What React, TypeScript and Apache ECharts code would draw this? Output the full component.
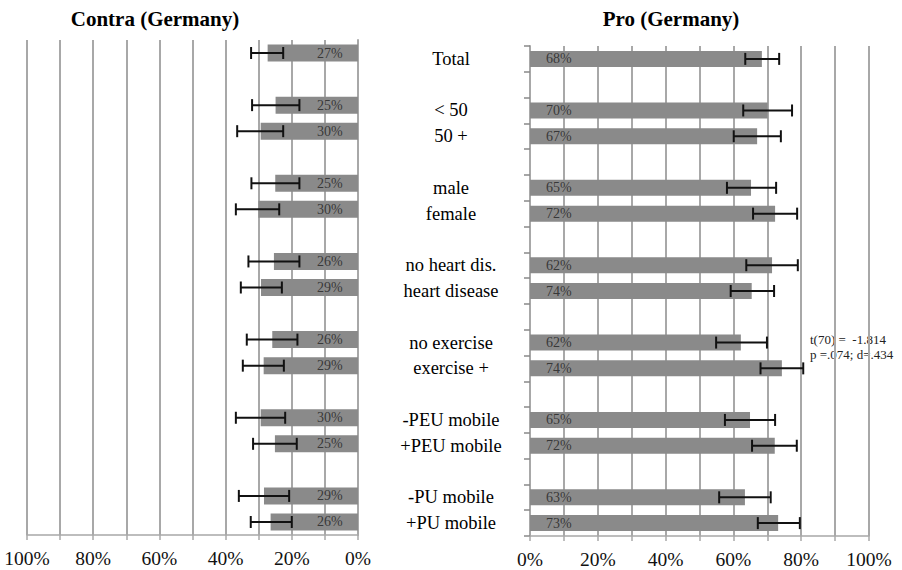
import React, { useEffect, useRef } from "react";
import * as echarts from "echarts";

const categories = ["Total", "", "< 50", "50 +", "", "male", "female", "", "no heart dis.", "heart disease", "", "no exercise", "exercise +", "", "-PEU mobile", "+PEU mobile", "", "-PU mobile", "+PU mobile"];

const contraValues = [27.3, null, 24.9, 29.4, null, 25.0, 30.1, null, 25.4, 29.3, null, 25.9, 28.5, null, 29.4, 25.1, null, 28.4, 26.4];
const contraLabels = ["27%", "", "25%", "30%", "", "25%", "30%", "", "26%", "29%", "", "26%", "29%", "", "30%", "25%", "", "29%", "26%"];
const contraLow = [22.6, null, 17.7, 22.6, null, 17.7, 23.8, null, 17.7, 23.0, null, 18.3, 22.4, null, 22.0, 18.5, null, 20.8, 20.0];
const contraHigh = [32.3, null, 32.0, 36.5, null, 32.2, 36.9, null, 33.1, 35.4, null, 33.6, 34.8, null, 36.9, 31.7, null, 36.0, 32.4];

const proValues = [68.4, null, 70.1, 67.0, null, 65.2, 72.3, null, 71.4, 65.4, null, 62.2, 74.3, null, 64.9, 72.2, null, 63.4, 73.2];
const proLabels = ["68%", "", "70%", "67%", "", "65%", "72%", "", "62%", "74%", "", "62%", "74%", "", "65%", "72%", "", "63%", "73%"];
const proLow = [63.5, null, 62.9, 60.1, null, 58.1, 65.8, null, 63.8, 59.2, null, 54.9, 68.0, null, 57.5, 65.5, null, 55.8, 67.2];
const proHigh = [73.5, null, 77.3, 74.0, null, 72.6, 78.8, null, 79.0, 72.0, null, 69.9, 80.6, null, 72.3, 78.7, null, 71.0, 79.6];

const titles = ["Contra (Germany)", "Pro (Germany)"];
const annotation = ["t(70) =  -1.814", "p =.074; d=.434"];
const labelAt = 8.5;

const FONT = "Liberation Serif";
const GRID = "#a8a8a8";
const BAR = "#8a8a8a";

function errData(low: (number | null)[], high: (number | null)[]) {
  const out: number[][] = [];
  low.forEach((l, i) => {
    const h = high[i];
    if (l != null && h != null) out.push([l, h, i]);
  });
  return out;
}

function labelData(labels: string[]) {
  const out: any[] = [];
  labels.forEach((t, i) => {
    if (t) out.push({ value: [labelAt, i], name: t });
  });
  return out;
}

const renderErr = (params: any, api: any) => {
  const lo = api.coord([api.value(0), api.value(2)]);
  const hi = api.coord([api.value(1), api.value(2)]);
  const y = lo[1];
  const cap = 6;
  const style = { stroke: "#111", lineWidth: 2 };
  return {
    type: "group",
    children: [
      { type: "line", shape: { x1: lo[0], y1: y, x2: hi[0], y2: y }, style },
      { type: "line", shape: { x1: lo[0], y1: y - cap, x2: lo[0], y2: y + cap }, style },
      { type: "line", shape: { x1: hi[0], y1: y - cap, x2: hi[0], y2: y + cap }, style },
    ],
  };
};

function xAxisCfg(gridIndex: number, inverse: boolean) {
  return {
    type: "value",
    gridIndex,
    min: 0,
    max: 100,
    interval: 10,
    inverse,
    axisLine: { show: true, onZero: false, lineStyle: { color: GRID, width: 1.5 } },
    axisTick: { show: true, length: 5, lineStyle: { color: GRID, width: 1.5 } },
    axisLabel: {
      formatter: (v: number) => (v % 20 === 0 ? v + "%" : ""),
      fontFamily: FONT,
      fontSize: 19.5,
      color: "#111",
      margin: 13,
    },
    splitLine: { show: true, lineStyle: { color: GRID, width: 2 } },
  };
}

function txt(text: string, x: number, y: number, size: number, weight: string, align: string, fill: string) {
  return {
    type: "text",
    x,
    y,
    style: {
      text,
      fontFamily: FONT,
      fontSize: size,
      fontWeight: weight,
      fill,
      align,
      verticalAlign: "middle",
    },
  };
}

export default function App() {
  const ref = useRef<HTMLDivElement>(null);
  useEffect(() => {
    if (!ref.current) return;
    const chart = echarts.init(ref.current, null, { renderer: "svg" });
    const labelStyle = { show: true, position: "inside", formatter: "{b}", fontFamily: FONT, fontSize: 14, color: "#222" };
    const option: any = {
      animation: false,
      backgroundColor: "#fff",
      textStyle: { fontFamily: FONT },
      grid: [
        { left: 27, right: 544, top: 40, bottom: 35 },
        { left: 530, right: 33, top: 46, bottom: 34 },
      ],
      xAxis: [xAxisCfg(0, true), xAxisCfg(1, false)],
      yAxis: [
        {
          type: "category",
          gridIndex: 0,
          data: categories,
          inverse: true,
          position: "right",
          axisLine: { show: true, lineStyle: { color: GRID, width: 2 } },
          axisTick: { show: false },
          axisLabel: { show: false },
        },
        {
          type: "category",
          gridIndex: 1,
          data: categories,
          inverse: true,
          position: "left",
          axisLine: { show: true, lineStyle: { color: GRID, width: 2 } },
          axisTick: { show: true, length: 6, interval: 0, lineStyle: { color: "#888", width: 1.5 } },
          axisLabel: {
            show: true,
            interval: 0,
            align: "center",
            margin: 79,
            fontFamily: FONT,
            fontSize: 18.5,
            color: "#000",
          },
        },
      ],
      series: [
        {
          type: "bar",
          xAxisIndex: 0,
          yAxisIndex: 0,
          data: contraValues,
          barWidth: 17,
          itemStyle: { color: BAR },
        },
        {
          type: "bar",
          xAxisIndex: 1,
          yAxisIndex: 1,
          data: proValues,
          barWidth: 16,
          itemStyle: { color: BAR },
        },
        {
          type: "scatter",
          xAxisIndex: 0,
          yAxisIndex: 0,
          symbolSize: 0,
          data: labelData(contraLabels),
          label: labelStyle,
          z: 5,
        },
        {
          type: "scatter",
          xAxisIndex: 1,
          yAxisIndex: 1,
          symbolSize: 0,
          data: labelData(proLabels),
          label: labelStyle,
          z: 5,
        },
        {
          type: "custom",
          xAxisIndex: 0,
          yAxisIndex: 0,
          renderItem: renderErr,
          encode: { x: [0, 1], y: 2 },
          data: errData(contraLow, contraHigh),
          z: 6,
        },
        {
          type: "custom",
          xAxisIndex: 1,
          yAxisIndex: 1,
          renderItem: renderErr,
          encode: { x: [0, 1], y: 2 },
          data: errData(proLow, proHigh),
          z: 6,
        },
      ],
      graphic: [
        txt(titles[0], 155, 19, 21, "bold", "center", "#000"),
        txt(titles[1], 671, 19, 21, "bold", "center", "#000"),
        txt(annotation[0], 810, 339, 13, "normal", "left", "#222"),
        txt(annotation[1], 810, 354, 13, "normal", "left", "#222"),
      ],
    };
    chart.setOption(option);
    return () => chart.dispose();
  }, []);
  return (
    <div
      ref={ref}
      style={{ position: "fixed", left: 0, top: 0, width: 902, height: 570, background: "#fff" }}
    />
  );
}
